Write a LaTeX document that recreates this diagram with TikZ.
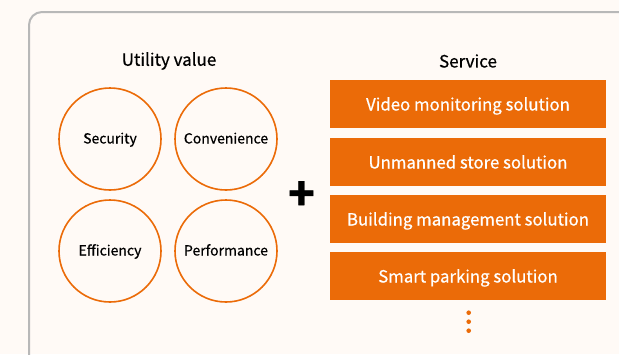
\documentclass[tikz,border=0pt]{standalone}
\usepackage{fontspec}
\setmainfont{Noto Sans CJK KR}[FakeBold=0.6]
\usepackage{tikz}
\usetikzlibrary{shapes}
\definecolor{frameorange}{HTML}{EB6B08}
\definecolor{framegray}{HTML}{B8B8B8}
\definecolor{paper}{HTML}{FFFAF6}
\tikzstyle{value}=[circle,draw=frameorange,line width=1.6pt,inner sep=0mm, minimum size=102pt,text height=10pt,text depth=1pt,font=\fontsize{14}{16}\selectfont]
\tikzstyle{service}=[rectangle,fill=frameorange,text=white,inner sep=0mm, minimum width=276pt, minimum height=47.5pt,text height=13pt,text depth=0pt,font=\fontsize{16.8}{19}\selectfont]
\tikzstyle{title}=[font=\fontsize{17}{19}\selectfont]
\tikzstyle{dot}=[circle,fill=frameorange,inner sep=0mm, minimum size=4.6pt]
\tikzset{every picture/.style={
    line width=1
  }
}

\begin{document}
\begin{tikzpicture}[x=1pt,y=-1pt]
      \fill[paper] (0,0) rectangle (619,354);
      \useasboundingbox (0,0) rectangle (619,354);
      \draw[framegray,line width=2pt,rounded corners=13pt] (29,370) -- (29,12) -- (640,12);
      \node[title] at (169,61) (utility) {Utility value};
      \node[title] at (468,61) (servicetitle) {Service};
      \node[value] at (110,139) (security) {Security};
      \node[value] at (226,139) (convenience) {Convenience};
      \node[value] at (110,251) (efficiency) {Efficiency};
      \node[value] at (226,251) (performance) {Performance};
      \node[font=\fontsize{44}{44}\selectfont\bfseries] at (301.5,195.5) (plus) {+};
      \node[service] at (468,104) (video) {Video monitoring solution};
      \node[service] at (468,162) (store) {Unmanned store solution};
      \node[service] at (468,219) (building) {Building management solution};
      \node[service] at (468,276) (parking) {Smart parking solution};
      \node[dot] at (468.7,312.7) (dot1) {};
      \node[dot] at (468.7,321.7) (dot2) {};
      \node[dot] at (468.7,330.7) (dot3) {};
    \end{tikzpicture}
\end{document}
